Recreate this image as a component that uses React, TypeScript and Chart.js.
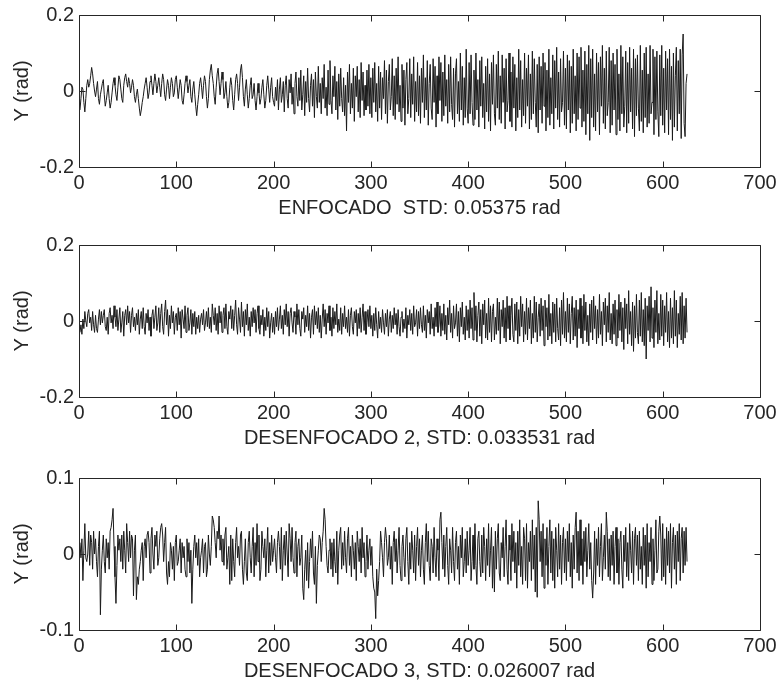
import React, { useEffect, useRef } from "react";
import { Chart, registerables } from "chart.js";

Chart.register(...registerables);

// values in milliradians (divided by 1000 when building the datasets)
const enfocado: number[] = [
  -50,-20,10,5,-30,-55,-20,15,30,10,20,40,62,45,20,0,-15,5,25,-20,-35,-10,5,20,30,
  -10,-40,-25,-5,15,-20,-45,-30,-5,20,35,15,-10,-25,10,40,30,5,-20,-30,15,35,45,25,10,
  35,20,-5,10,30,15,-15,-30,-10,5,-20,-45,-65,-50,-30,-15,5,20,35,10,-20,-5,25,40,15,
  -10,20,45,25,-5,15,35,10,-15,20,45,30,-10,-25,5,30,15,-20,10,35,20,-15,-5,30,40,
  10,-20,5,30,15,-25,-35,-10,20,40,25,-5,15,30,-15,-30,5,25,-10,-40,-65,-35,-10,20,35,
  10,-20,15,40,25,-15,-45,-20,30,55,70,40,20,-15,-35,10,45,60,25,-10,20,50,30,-20,-5,
  25,-15,-45,-30,10,35,15,-25,-50,-10,30,45,20,-25,10,55,70,35,-15,-40,5,30,-10,-45,-20,
  15,35,-20,-10,20,-25,-50,-15,20,-5,-35,-20,10,30,-10,-45,-25,15,40,5,-30,10,35,-15,-30,
  -40,10,-25,30,-50,5,35,-30,-10,25,-55,15,40,-20,-45,30,-5,45,-35,10,-60,20,50,-15,-40,
  35,-25,55,-50,-10,40,-65,25,-30,60,-20,-55,15,45,-40,30,-70,50,-15,-45,65,-30,20,-60,35,
  -20,70,-45,10,-65,55,-35,80,-25,-60,40,-15,65,-50,25,-75,45,-40,60,-20,-55,35,-65,15,-105,
  50,-30,70,-60,20,-45,60,-80,40,-15,65,-55,30,-70,75,-25,50,-65,15,-50,55,-40,70,-60,35,
  -70,60,-30,75,-55,20,-80,65,-45,50,-75,35,-20,80,-60,55,-85,25,70,-50,-15,85,-65,40,-75,
  60,-35,90,-55,15,-80,70,-45,55,-90,30,75,-60,-20,85,-70,45,-35,90,-80,25,-55,75,-65,40,
  -85,60,-30,95,-70,35,-50,80,-90,20,70,-45,-75,85,-30,65,-95,40,-60,90,-25,75,-80,50,-65,
  95,-40,30,-85,70,-55,90,-35,-75,60,-95,45,85,-60,25,-80,100,-50,65,-90,35,-70,110,-45,-85,
  75,-60,95,-30,-90,55,-75,100,-50,30,-95,80,-40,90,-70,20,-100,65,-55,85,-80,45,-105,75,-35,
  95,-60,-90,70,-45,105,-75,40,-85,95,-30,60,-100,85,-55,-25,100,-80,50,-95,90,-45,70,-105,35,
  -70,110,-50,80,-95,30,-65,100,-85,60,-40,95,-100,45,-75,105,-60,85,-30,-95,70,-110,90,-50,65,
  -85,100,-40,75,-105,55,-70,110,-90,35,-60,95,-100,80,-45,115,-75,50,-95,85,-55,-30,105,-90,60,
  -100,95,-50,80,-110,65,-85,110,-60,40,-105,100,-75,90,-45,115,-95,55,-80,105,-115,70,-60,120,-130,
  85,-70,110,-95,45,-105,100,-55,75,-115,90,-40,120,-85,60,-100,105,-65,-30,115,-110,80,-90,100,-50,
  70,-115,110,-75,45,-105,120,-60,90,-95,-40,105,-110,75,-85,115,-55,60,-100,110,-120,85,-65,95,-45,
  -105,120,-80,55,-110,100,-70,115,-95,45,-85,120,-60,-30,110,-115,90,-75,105,-55,-120,95,-65,120,-90,
  60,-110,105,-50,85,-115,110,-75,65,-130,100,-95,40,115,-105,80,-60,110,-125,95,150,-85,-120,20,45,
];

const desenfocado2: number[] = [
  -30,-10,-35,5,-20,25,0,-15,20,30,-5,10,-25,25,-10,-30,15,-20,-30,5,30,-10,25,-5,15,
  30,-15,-25,10,-35,20,35,-5,15,-20,40,10,-15,30,-25,5,35,-30,-5,25,-40,15,30,-10,40,
  -5,25,-30,15,35,-15,10,-25,20,-10,30,-35,5,25,-20,35,-15,-35,20,-5,30,-25,10,-40,15,
  30,-20,10,40,-25,-5,35,-30,20,45,-15,-35,25,55,-10,30,-40,15,-20,40,-5,25,-35,10,20,
  -25,35,-10,25,-45,30,5,-20,40,-30,15,35,-25,-5,30,-35,20,-15,25,-35,10,-20,15,-30,5,
  20,-10,30,-25,-5,25,-15,35,-20,10,-30,45,15,-10,35,-25,20,-35,40,-5,25,-30,15,35,-20,
  45,-15,-35,25,5,40,-20,30,-25,15,55,-10,-35,35,5,-30,50,-15,25,-40,30,-10,45,-25,10,
  -40,25,-15,35,-5,30,-30,20,40,-20,-35,15,-10,30,-40,10,-25,35,-15,25,-45,-5,20,-30,10,
  -35,25,-15,35,-25,5,40,-20,15,-35,30,-10,45,-15,25,-40,20,35,-5,-30,25,10,-35,45,-10,
  30,-20,-40,25,5,35,-30,15,-15,40,-25,20,-45,10,30,-35,40,-10,25,-20,35,-30,15,-45,5,
  45,-15,30,-35,20,-5,40,-25,10,-40,35,-20,25,-10,45,-30,5,-25,35,-35,20,-15,40,-20,10,
  -30,30,-40,15,35,-15,-35,25,-5,30,-40,20,-20,35,-30,10,45,-25,25,-35,-5,30,-15,40,-20,
  15,-40,20,-25,35,-10,-45,25,-20,10,-30,30,-5,-35,20,-15,30,-40,5,25,-30,15,-20,35,-10,
  20,-35,30,-15,-40,10,25,-30,5,-20,35,-45,15,-10,30,-25,20,-35,40,-15,-5,30,-40,25,-20,
  35,-10,-30,40,-25,15,-45,30,-5,25,-35,45,-20,10,-40,35,-15,50,-30,-10,40,-40,20,-25,45,
  -35,15,-50,35,-10,55,-30,20,-45,40,-20,-5,45,-40,25,-55,35,-15,50,-35,10,-50,40,-25,30,
  -45,55,-20,35,-50,75,-25,40,-55,15,50,-40,30,-60,45,-10,55,-45,20,-50,60,-30,40,-55,25,
  45,-50,10,-35,60,-25,50,-60,30,-15,55,-45,35,-55,65,-20,40,-50,15,60,-35,-55,45,-25,50,
  -60,30,-40,65,-15,45,-55,25,-35,60,-50,35,-20,55,-60,20,-45,65,-30,50,-55,10,45,-40,60,
  -25,40,-65,55,-15,35,-50,70,-40,20,-60,50,-30,45,-55,60,-20,-50,35,-65,55,-35,75,-45,25,
  -55,60,-30,45,-60,20,65,-50,35,-40,55,-70,30,-20,60,-45,40,-60,70,-25,50,-55,15,-65,45,
  -30,55,-50,65,-20,40,-60,30,-45,70,-35,25,-65,50,-10,60,-55,40,-30,75,-50,20,-60,45,-35,
  55,-65,30,-45,70,-25,50,-55,35,-75,60,-20,45,-60,80,-35,25,-65,50,-80,40,-45,70,-30,-60,
  55,-40,75,-55,30,-65,60,-100,40,-25,65,-55,90,-45,35,-70,55,-30,80,-60,20,-50,70,-40,55,
  -65,40,-30,75,-55,25,-70,60,-45,35,-60,80,-40,55,-70,20,-35,65,-50,75,-60,40,-45,60,-30,
];

const desenfocado3: number[] = [
  15,-5,20,-35,5,40,-5,-10,0,30,-15,25,15,-20,30,0,20,-10,-30,10,30,-80,-20,5,25,
  -10,-25,20,-5,15,-20,30,35,45,60,10,-30,-65,-15,25,5,20,-10,25,-20,30,5,-25,40,15,
  -10,30,-5,25,20,-55,5,25,-60,-30,-40,-20,-10,5,15,-35,10,20,-5,25,30,15,-25,20,35,
  0,-20,25,10,30,-15,-5,20,35,40,25,-10,15,35,-25,-40,-10,-30,15,5,-20,10,-35,15,25,
  -15,-10,5,20,-25,15,-5,10,-20,-30,20,-10,15,-25,5,-65,-20,10,25,-5,15,-15,20,-30,-5,
  5,20,-25,10,15,-30,-20,25,0,-15,10,50,45,35,15,-5,30,20,50,5,25,-10,20,-15,25,
  35,-20,-5,10,-40,25,-35,20,-10,-30,15,35,-5,10,-15,25,30,-20,-40,-10,20,-25,-35,15,30,
  -5,-25,10,35,-30,15,-15,40,-10,25,-35,-20,30,10,-5,20,-30,5,35,-25,15,-15,25,-10,5,
  20,-5,-25,15,30,10,-20,35,-35,5,25,-15,30,0,-30,40,20,-10,35,-5,-25,15,30,-30,10,
  20,-15,-5,25,-45,-60,-20,5,-35,15,-45,-10,20,-5,30,-25,-40,10,-65,-15,5,25,20,-10,15,
  30,60,45,10,-15,-25,5,20,-20,15,-30,20,-10,-25,30,-40,5,25,35,-20,15,-15,30,-5,-25,
  20,35,-15,10,-30,25,5,-20,15,-35,30,10,-10,20,-25,35,-5,15,-30,-10,25,-20,5,20,-15,
  10,-30,-45,-50,-85,-20,-55,-35,-10,30,15,-5,-30,15,35,20,-15,-5,25,-20,10,-40,15,30,-10,
  20,-25,5,35,-15,-35,10,25,-5,-30,20,35,-10,-40,15,-20,30,5,-25,25,-35,10,35,-15,20,
  -30,5,25,-20,-40,15,40,-10,30,-15,-35,20,10,-25,35,-5,-30,20,5,-35,45,55,15,-20,25,
  -30,10,35,-15,-40,20,5,-25,35,-10,-35,15,30,-20,10,-40,25,-5,35,-30,-10,20,-25,30,-15,
  5,35,-35,-10,25,-20,40,-15,-40,20,30,-10,-30,25,-25,35,10,-35,20,-15,40,-30,5,35,-45,
  10,-50,30,-20,20,40,-25,-35,15,-5,35,-30,10,45,-20,-40,25,5,-35,40,-10,30,-25,15,-45,
  30,-15,45,-30,10,-40,35,20,-35,40,-45,15,-10,30,-35,45,-20,25,-50,35,-57,70,45,-10,30,
  -30,40,-45,20,-15,35,-40,10,45,-25,30,-35,20,-45,35,5,-30,40,-20,25,-40,15,35,-25,20,
  -35,30,-10,40,-30,15,-45,25,-20,35,55,-25,30,-35,45,-15,20,-40,30,-10,35,-30,5,40,-20,
  15,-35,-58,-25,30,-40,20,-15,35,-30,10,40,-35,-5,25,-20,55,30,-30,20,-35,25,-15,30,-40,
  10,35,-25,20,-40,15,30,-20,-45,25,-10,35,-30,15,-35,40,5,-25,30,-40,20,35,-15,25,-35,
  30,-20,10,-40,35,-15,25,-45,40,-30,15,-10,35,-40,20,-35,5,45,-25,-20,30,50,25,-35,40,
  -30,20,-40,35,-15,30,-25,40,-45,15,35,-20,25,-40,30,-10,40,-35,20,35,-25,30,-15,35,-10,
];

const xTickMax = 700;
const xTickStep = 100;
const yLabel = "Y (rad)";
const xLabels = [
  "ENFOCADO  STD: 0.05375 rad",
  "DESENFOCADO 2, STD: 0.033531 rad",
  "DESENFOCADO 3, STD: 0.026007 rad",
];
const yLimits = [0.2, 0.2, 0.1];

const FONT_FAMILY = "'Liberation Sans', Arial, Helvetica, sans-serif";
const TEXT_COLOR = "#262626";

const framePlugin = {
  id: "matlabFrame",
  afterDraw(chart: any) {
    const { ctx, chartArea, scales } = chart;
    const { left, right, top, bottom } = chartArea;
    const xs = scales.x;
    const ys = scales.y;
    const L = 6;
    ctx.save();
    ctx.strokeStyle = TEXT_COLOR;
    ctx.lineWidth = 1;
    ctx.beginPath();
    const l = Math.round(left) + 0.5;
    const r = Math.round(right) + 0.5;
    const t = Math.round(top) + 0.5;
    const b = Math.round(bottom) + 0.5;
    ctx.rect(l, t, r - l, b - t);
    xs.ticks.forEach((tk: any) => {
      const px = Math.round(xs.getPixelForValue(tk.value)) + 0.5;
      ctx.moveTo(px, b);
      ctx.lineTo(px, b - L);
      ctx.moveTo(px, t);
      ctx.lineTo(px, t + L);
    });
    ys.ticks.forEach((tk: any) => {
      const py = Math.round(ys.getPixelForValue(tk.value)) + 0.5;
      ctx.moveTo(l, py);
      ctx.lineTo(l + L, py);
      ctx.moveTo(r, py);
      ctx.lineTo(r - L, py);
    });
    ctx.stroke();
    ctx.restore();
  },
};

function Panel({ values, lim, label, top }: { values: number[]; lim: number; label: string; top: number }) {
  const ref = useRef<HTMLCanvasElement | null>(null);
  useEffect(() => {
    if (!ref.current) return;
    const pts = values.map((v, i) => ({ x: i + 1, y: v / 1000 }));
    const font = { family: FONT_FAMILY, size: 20 };
    const chart = new Chart(ref.current, {
      type: "line",
      data: {
        datasets: [
          {
            data: pts,
            borderColor: "#1a1a1a",
            borderWidth: 1,
            pointRadius: 0,
            tension: 0,
            fill: false,
          },
        ],
      },
      options: {
        animation: false,
        responsive: false,
        events: [],
        layout: { padding: { left: 0, right: 19, top: 15, bottom: 0 } },
        plugins: { legend: { display: false }, tooltip: { enabled: false } },
        scales: {
          x: {
            type: "linear",
            min: 0,
            max: xTickMax,
            ticks: { stepSize: xTickStep, font, color: TEXT_COLOR, padding: 4, maxRotation: 0, autoSkip: false },
            grid: { display: false, drawTicks: false },
            border: { display: false },
            title: { display: true, text: label, font, color: TEXT_COLOR, padding: { top: 0, bottom: 5 } },
            afterFit: (s: any) => {
              s.height = 58;
              s.paddingLeft = 0;
              s.paddingRight = 0;
            },
          },
          y: {
            min: -lim,
            max: lim,
            ticks: {
              stepSize: lim,
              font,
              color: TEXT_COLOR,
              padding: 5,
              callback: (v: any) => String(Number(Number(v).toFixed(1))),
            },
            grid: { display: false, drawTicks: false },
            border: { display: false },
            title: { display: true, text: yLabel, font, color: TEXT_COLOR, padding: { top: 10, bottom: 0 } },
            afterFit: (s: any) => {
              s.width = 79;
              s.paddingTop = 0;
              s.paddingBottom = 0;
            },
          },
        },
      },
      plugins: [framePlugin],
    } as any);
    return () => chart.destroy();
  }, [values, lim, label]);
  return (
    <canvas
      ref={ref}
      width={779}
      height={225}
      style={{ position: "absolute", left: 0, top, width: 779, height: 225 }}
    />
  );
}

export default function App() {
  return (
    <div style={{ position: "fixed", left: 0, top: 0, width: 779, height: 688, background: "#fff", overflow: "hidden" }}>
      <Panel values={enfocado} lim={yLimits[0]} label={xLabels[0]} top={0} />
      <Panel values={desenfocado2} lim={yLimits[1]} label={xLabels[1]} top={230} />
      <Panel values={desenfocado3} lim={yLimits[2]} label={xLabels[2]} top={463} />
    </div>
  );
}
